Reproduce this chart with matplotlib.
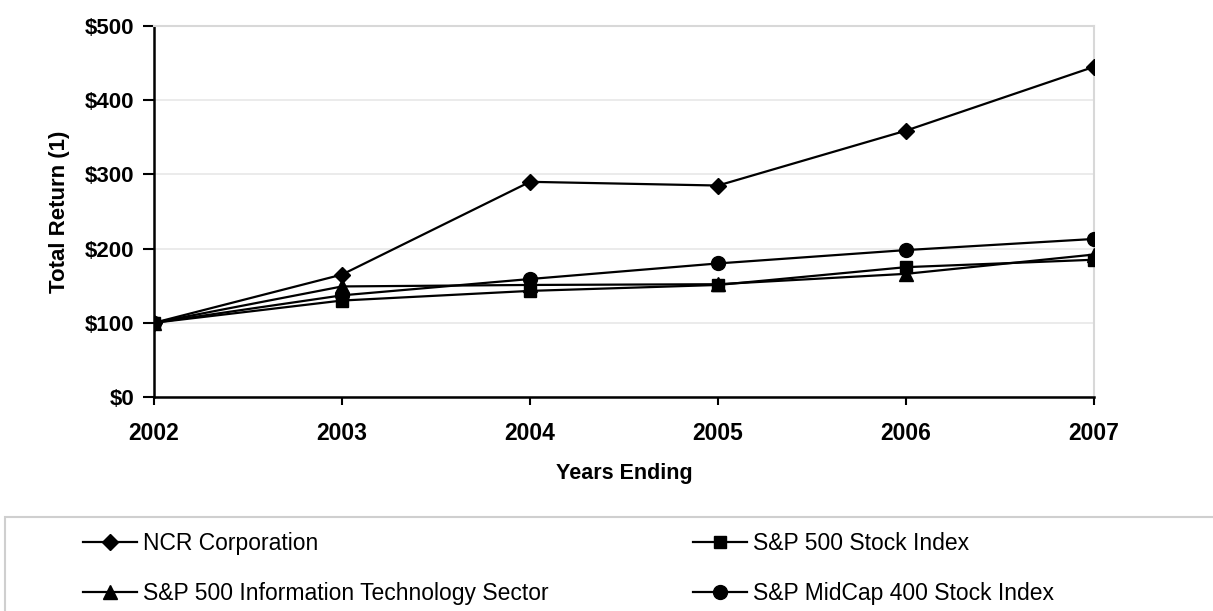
import matplotlib
matplotlib.use("Agg")
import matplotlib.pyplot as plt
from matplotlib.patches import Rectangle

years = [2002, 2003, 2004, 2005, 2006, 2007]
ncr = [100, 165, 290, 285, 359, 445]
sp500 = [100, 130, 143, 151, 175, 185]
sp_it = [100, 149, 151, 152, 166, 192]
midcap = [100, 137, 159, 180, 198, 213]
y_ticks = [0, 100, 200, 300, 400, 500]
y_labels = ["$0", "$100", "$200", "$300", "$400", "$500"]

plt.rcParams['font.family'] = ['Liberation Sans', 'DejaVu Sans']

fig = plt.figure(figsize=(12.13, 6.11), dpi=100)
ax = fig.add_axes([154/1213, 1-397/611, (1094-154)/1213, (397-26)/611])

lw = 1.6
l_ncr, = ax.plot(years, ncr, color='black', lw=lw, marker='D', ms=8, label='NCR Corporation', zorder=5)
l_sp, = ax.plot(years, sp500, color='black', lw=lw, marker='s', ms=9, label='S&P 500 Stock Index', zorder=4)
l_it, = ax.plot(years, sp_it, color='black', lw=lw, marker='^', ms=10, label='S&P 500 Information Technology Sector', zorder=4)
l_mc, = ax.plot(years, midcap, color='black', lw=lw, marker='o', ms=10, label='S&P MidCap 400 Stock Index', zorder=4)

ax.set_xlim(2002, 2007)
ax.set_ylim(0, 500)
ax.set_yticks(y_ticks)
ax.set_yticklabels(y_labels, fontsize=16, fontweight='bold')
ax.set_xticks(years)
ax.set_xticklabels([str(y) for y in years], fontsize=16.5, fontweight='bold')
ax.tick_params(axis='both', direction='out', width=1.5, color='black')
ax.tick_params(axis='x', length=6, pad=12)
ax.tick_params(axis='y', length=8, pad=6)

ax.grid(axis='y', color='#e8e8e8', lw=1.2)
ax.set_axisbelow(True)
for s in ['left', 'bottom']:
    ax.spines[s].set_color('black')
    ax.spines[s].set_linewidth(1.8)
for s in ['top', 'right']:
    ax.spines[s].set_color('#d8d8d8')
    ax.spines[s].set_linewidth(1.5)

ax.set_xlabel('Years Ending', fontsize=15.5, fontweight='bold', labelpad=13)
ax.set_ylabel('Total Return (1)', fontsize=16, fontweight='bold', labelpad=11)

# legend frame
fig.patches.append(Rectangle((5/1213, -0.1), 1.2, 1 - 517/611 + 0.1,
                             transform=fig.transFigure, facecolor='none',
                             edgecolor='#cfcfcf', lw=1.5))

leg_kw = dict(frameon=False, fontsize=16.5, handlelength=2.36, handletextpad=0.26,
              labelspacing=1.19, borderpad=0, borderaxespad=0, loc='upper left')
fig.legend(handles=[l_ncr, l_it], bbox_to_anchor=(83/1213, 1-532/611), **leg_kw)
fig.legend(handles=[l_sp, l_mc], bbox_to_anchor=(693/1213, 1-532/611), **leg_kw)

fig.savefig('out.png', dpi=100)
